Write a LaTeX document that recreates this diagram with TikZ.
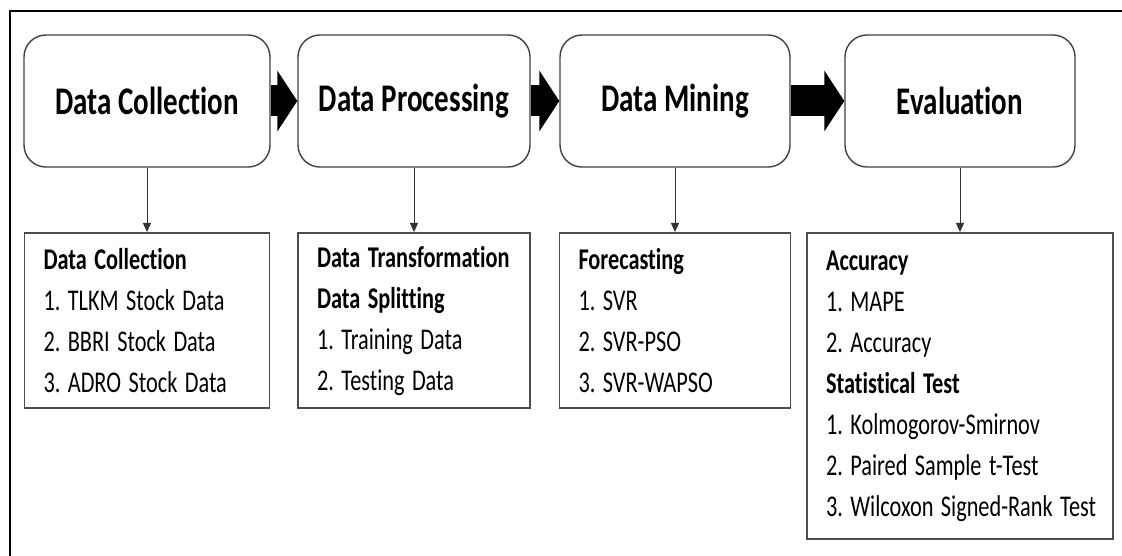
\documentclass[tikz,border=0pt]{standalone}
\usepackage{fontspec}
\setmainfont{Carlito}[Ligatures=NoCommon]
\usepackage{tikz}
\usetikzlibrary{positioning, arrows.meta}
\frenchspacing

\begin{document}
\begin{tikzpicture}[x=1pt,y=-1pt]
	\tikzstyle{stage}=[draw=black!75, line width=1.4pt, rounded corners=22pt, fill=white, yscale=1.35, minimum height=97.8pt, inner sep=0pt, font=\fontsize{29}{35}\selectfont\bfseries]
	\tikzstyle{detail}=[draw=black!70, line width=1.8pt, anchor=north, yscale=1.35, minimum height=129.6pt, inner xsep=19pt, inner ysep=0pt, align=left, font=\fontsize{22.3}{30.4}\selectfont]
	\tikzstyle{flow}=[line width=31pt, -{Triangle[length=20pt,width=60pt]}]
	\tikzstyle{down}=[line width=0.9pt, color=black!80, -{Triangle[length=9pt,width=8pt]}]
	\useasboundingbox (0,0) rectangle (1122,556);
	% outer frame
	\draw[line width=1.8pt] (1122,11) -- (10,11) -- (10,556);
	% stages
	\node[stage, minimum width=246pt](collect) at (147,101){Data Collection};
	\node[stage, minimum width=232pt](process) at (414,101){Data Processing};
	\node[stage, minimum width=230pt](mining) at (675,101){Data Mining};
	\node[stage, minimum width=230pt](evaluate) at (960,101){Evaluation};
	% details
	\node[detail, text width=207pt](collectlist) at (147,232){\textbf{Data Collection}\\1. TLKM Stock Data\\2. BBRI Stock Data\\3. ADRO Stock Data};
	\node[detail, text width=194pt](processlist) at (414,232){\mbox{\textbf{Data Transformation}}\\\textbf{Data Splitting}\\1. Training Data\\2. Testing Data};
	\node[detail, text width=193pt](mininglist) at (675,232){\textbf{Forecasting}\\1. SVR\\2. SVR-PSO\\3. SVR-WAPSO};
	\node[detail, text width=268pt, minimum height=226.7pt](evaluatelist) at (960,232){\textbf{Accuracy}\\1. MAPE\\2. Accuracy\\\textbf{Statistical Test}\\\mbox{1. Kolmogorov-Smirnov}\\2. Paired Sample t-Test\\\mbox{3. Wilcoxon Signed-Rank Test}};
	\path[flow]
		(collect) edge (process)
		(process) edge (mining)
		(mining) edge (evaluate);
	\path[down]
		(collect.south) edge (collectlist.north)
		(process.south) edge (processlist.north)
		(mining.south) edge (mininglist.north)
		(evaluate.south) edge (evaluatelist.north);
\end{tikzpicture}
\end{document}
